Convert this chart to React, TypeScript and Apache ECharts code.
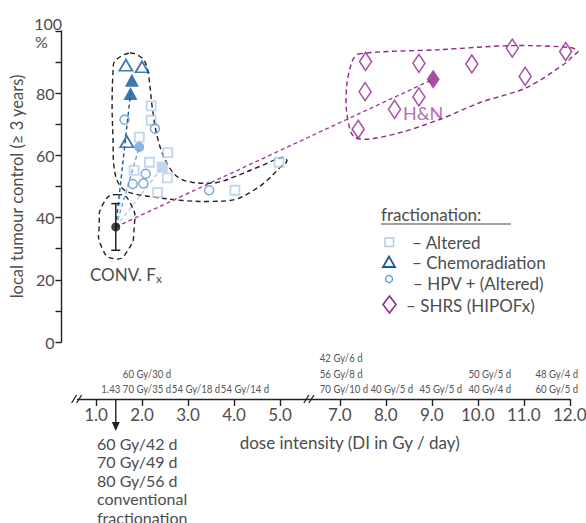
import React, { useEffect, useRef } from 'react';
import * as echarts from 'echarts';

// Broken dose-intensity axis: values above BREAK_AT are drawn BREAK_SHIFT units further left
const BREAK_AT = 6;
const BREAK_SHIFT = 0.7;
const bx = (di: number) => (di > BREAK_AT ? di - BREAK_SHIFT : di);

const xTickValues = [1, 2, 3, 4, 5, 7, 8, 9, 10, 11, 12];

// Conventional fractionation
const convDI = 1.43;
const convLC = 37;
const convLow = 29.5;
const convHigh = 44.5;

// Altered fractionation (open squares) and pooled value (filled square)
const alteredDI = [2.2, 2.2, 1.94, 2.56, 2.16, 1.83, 2.55, 2.34, 4.02, 4.98];
const alteredLC = [75.9, 71.3, 65.9, 60.9, 57.8, 55.2, 52.8, 48.0, 48.8, 57.8];
const alteredPooled = [2.44, 56.2];

// HPV+ (altered)
const hpvDI = [1.62, 2.28, 2.08, 1.8, 2.03, 3.46];
const hpvLC = [71.5, 68.6, 54.1, 50.8, 51.0, 48.8];
const hpvPooled = [1.94, 62.7];

// Chemoradiation
const chemoDI = [1.65, 2.0, 1.67];
const chemoLC = [89.0, 88.5, 64.4];
const chemoFilledDI = [1.78, 1.75];
const chemoFilledLC = [84.2, 79.9];

// SHRS (HIPOFx)
const shrsDI = [7.56, 8.72, 9.87, 10.75, 11.91, 7.55, 11.03, 8.72, 8.19, 7.4];
const shrsLC = [90.2, 89.6, 89.4, 94.5, 93.4, 80.5, 85.4, 78.8, 74.8, 68.4];
const shrsPooled = [9.03, 84.5];

// Hand-drawn enclosures (DI, local control)
const clusterOutline = [
  [1.74, 92.9], [2.02, 91.0], [2.13, 86.8], [2.22, 75.8], [2.33, 66.1], [2.5, 58.7],
  [2.76, 53.2], [3.11, 51.3], [3.63, 51.3], [4.02, 53.2], [4.57, 56.5], [5.07, 59.4],
  [5.15, 58.1], [5.0, 56.1], [4.67, 51.3], [4.35, 48.1], [4.02, 45.8], [3.48, 45.2],
  [2.89, 45.5], [2.17, 46.8], [1.67, 48.4], [1.48, 51.3], [1.39, 56.5], [1.37, 65.2],
  [1.35, 75.8], [1.37, 86.8], [1.41, 90.3],
];
const convOutline = [
  [1.46, 47.4], [1.74, 44.8], [1.83, 36.8], [1.67, 29.0], [1.39, 26.8], [1.13, 30.3],
  [1.07, 37.4], [1.17, 44.8],
];
const hnOutline = [
  [7.4, 92.6], [9.18, 94.0], [10.77, 95.3], [12.0, 94.7], [12.18, 93.5], [12.04, 91.6],
  [11.93, 89.9], [11.06, 81.8], [10.05, 77.0], [9.18, 71.6], [8.31, 67.3], [7.58, 65.2],
  [7.29, 66.2], [7.15, 73.8], [7.15, 82.4], [7.26, 89.9],
];

// Schedules written above the dose-intensity axis
const doseAnnotationDI = [1.43, 2, 3, 4, 7, 8, 9, 10, 12];
const doseAnnotationText = [
  '1.43',
  '60 Gy/30 d\n70 Gy/35 d',
  '54 Gy/18 d',
  '54 Gy/14 d',
  '42 Gy/6 d\n56 Gy/8 d\n70 Gy/10 d',
  '40 Gy/5 d',
  '45 Gy/5 d',
  '50 Gy/5 d\n40 Gy/4 d',
  '48 Gy/4 d\n60 Gy/5 d',
];
const convSchedules = '60 Gy/42 d\n70 Gy/49 d\n80 Gy/56 d\nconventional\nfractionation';

const FONT = 'Lato, "Open Sans", sans-serif';
const TXT = '#4d4d4d';
const C_ALT = '#b3cce9';
const C_HPV = '#5d94d4';
const C_CHEMO = '#17599b';
const C_SHRS = '#92278f';

export default function App() {
  const ref = useRef<HTMLDivElement>(null);

  useEffect(() => {
    const el = ref.current!;
    const chart = echarts.init(el, null, { renderer: 'svg' });

    const pts = (xs: number[], ys: number[]) => xs.map((x, i) => [bx(x), ys[i]]);
    const hollow = (color: string, w: number) => ({
      color: 'rgba(255,255,255,0)',
      borderColor: color,
      borderWidth: w,
    });

    const outline = (shape: number[][], color: string, smooth: number) => ({
      type: 'custom',
      xAxisIndex: 0,
      yAxisIndex: 0,
      silent: true,
      z: 1,
      data: [[bx(shape[0][0]), shape[0][1]]],
      renderItem: (_p: any, api: any) => ({
        type: 'polygon',
        shape: { points: shape.map((p) => api.coord([bx(p[0]), p[1]])), smooth },
        style: { fill: 'none', stroke: color, lineWidth: 1.4, lineDash: [5, 3.5] },
      }),
    });

    const link = (to: number[], color: string) => ({
      type: 'line',
      xAxisIndex: 0,
      yAxisIndex: 0,
      silent: true,
      z: 2,
      symbol: 'none',
      data: [
        [bx(convDI), convLC],
        [bx(to[0]), to[1]],
      ],
      lineStyle: { color, width: 1.4, type: [4, 3] },
    });

    const scatter = (data: number[][], symbol: string, size: any, itemStyle: any, z = 4) => ({
      type: 'scatter',
      xAxisIndex: 0,
      yAxisIndex: 0,
      silent: true,
      z,
      symbol,
      symbolSize: size,
      data,
      itemStyle,
    });

    const option: any = {
      animation: false,
      grid: [
        { left: 61.5, top: 31, width: 529, height: 311, outerBoundsMode: 'none' },
        { left: 77.6, top: 389, width: 492.2, height: 10, outerBoundsMode: 'none' },
      ],
      xAxis: [
        { gridIndex: 0, type: 'value', min: 0.25, max: 11.75, show: false },
        {
          gridIndex: 1,
          type: 'value',
          min: 0.6,
          max: 11.3,
          splitLine: { show: false },
          axisLine: { show: true, lineStyle: { color: '#222', width: 1.4 } },
          axisTick: {
            show: true,
            length: 7,
            customValues: xTickValues.map(bx),
            lineStyle: { color: '#222', width: 1.4 },
          },
          axisLabel: {
            customValues: xTickValues.map(bx),
            formatter: (v: number) => {
              const d = xTickValues.find((t) => Math.abs(bx(t) - v) < 1e-6);
              return d === undefined ? '' : d.toFixed(1);
            },
            fontSize: 17,
            fontFamily: FONT,
            color: TXT,
            margin: 7,
          },
          name: 'dose intensity (DI in Gy / day)',
          nameLocation: 'middle',
          nameGap: 35,
          nameTextStyle: { fontSize: 17, fontFamily: FONT, color: TXT, padding: [0, 0, 0, 52] },
        },
      ],
      yAxis: [
        {
          gridIndex: 0,
          type: 'value',
          min: 0,
          max: 100,
          interval: 10,
          splitLine: { show: false },
          axisLine: { show: true, lineStyle: { color: '#222', width: 1.4 } },
          axisTick: { show: true, length: 6, lineStyle: { color: '#222', width: 1.4 } },
          axisLabel: {
            formatter: (v: number) => (v % 20 === 0 && v < 100 ? String(v) : ''),
            fontSize: 16,
            fontFamily: FONT,
            color: TXT,
            margin: 7,
          },
          name: 'local tumour control (≥ 3 years)',
          nameLocation: 'middle',
          nameGap: 36,
          nameTextStyle: { fontSize: 16.5, fontFamily: FONT, color: TXT },
        },
        { gridIndex: 1, type: 'value', min: 0, max: 1, show: false },
      ],
      series: [
        outline(clusterOutline, '#222', 0.35),
        outline(convOutline, '#222', 0.6),
        outline(hnOutline, C_SHRS, 0.3),
        link([chemoFilledDI[1], chemoFilledLC[1]], C_CHEMO),
        link(hpvPooled, '#6e9fdc'),
        link(alteredPooled, C_ALT),
        link(shrsPooled, '#a33fa0'),
        {
          type: 'custom',
          xAxisIndex: 0,
          yAxisIndex: 0,
          silent: true,
          z: 3,
          data: [[bx(convDI), convLow, convHigh]],
          encode: { x: 0, y: [1, 2] },
          renderItem: (_p: any, api: any) => {
            const x = api.value(0);
            const lo = api.coord([x, api.value(1)]);
            const hi = api.coord([x, api.value(2)]);
            const w = 4.5;
            const st = { stroke: '#222', lineWidth: 1.5 };
            return {
              type: 'group',
              children: [
                { type: 'line', shape: { x1: lo[0], y1: lo[1], x2: hi[0], y2: hi[1] }, style: st },
                { type: 'line', shape: { x1: lo[0] - w, y1: lo[1], x2: lo[0] + w, y2: lo[1] }, style: st },
                { type: 'line', shape: { x1: hi[0] - w, y1: hi[1], x2: hi[0] + w, y2: hi[1] }, style: st },
              ],
            };
          },
        },
        scatter(pts(alteredDI, alteredLC), 'rect', 9, hollow(C_ALT, 1.8)),
        scatter([[bx(alteredPooled[0]), alteredPooled[1]]], 'rect', 11, { color: C_ALT }),
        scatter(pts(hpvDI, hpvLC), 'circle', 9, hollow(C_HPV, 1.5)),
        scatter([[bx(hpvPooled[0]), hpvPooled[1]]], 'circle', 10, { color: '#6e9fdc' }),
        scatter(pts(chemoDI, chemoLC), 'triangle', [13, 11], hollow(C_CHEMO, 1.8)),
        scatter(pts(chemoFilledDI, chemoFilledLC), 'triangle', [14, 13], { color: '#0f5598' }),
        scatter(pts(shrsDI, shrsLC), 'diamond', [12, 18], hollow(C_SHRS, 1.6)),
        scatter([[bx(shrsPooled[0]), shrsPooled[1]]], 'diamond', [13, 19], { color: '#8e258c' }),
        scatter([[bx(convDI), convLC]], 'circle', 9, { color: '#111' }, 5),
      ],
    };

    chart.setOption(option);

    const axX = (di: number) => chart.convertToPixel({ xAxisIndex: 1 }, bx(di)) as number;
    const axY = chart.convertToPixel({ yAxisIndex: 1 }, 0) as number;
    const txt = (x: number, y: number, text: string, extra: any = {}, size = 17, fill = TXT) => ({
      type: 'text',
      x,
      y,
      silent: true,
      style: { text, fontSize: size, fontFamily: FONT, fill, align: 'left', verticalAlign: 'middle', ...extra },
    });

    const annotDx = [-5, 5, 8, 11, -20, 6, 9, 12, -13];
    const annotAlign = ['center', 'center', 'center', 'center', 'left', 'center', 'center', 'center', 'center'];
    const annotations = doseAnnotationDI.map((d, i) => ({
      type: 'text',
      x: axX(d) + annotDx[i],
      y: axY - 3,
      scaleX: 0.8,
      silent: true,
      style: {
        text: doseAnnotationText[i],
        fontSize: 12,
        fontFamily: FONT,
        fill: '#555',
        align: annotAlign[i],
        verticalAlign: 'bottom',
        lineHeight: 15.5,
      },
    }));

    const slash = (cx: number) => [
      { type: 'line', shape: { x1: cx - 6, y1: axY + 4, x2: cx - 1, y2: axY - 4 }, style: { stroke: '#222', lineWidth: 1.3 } },
      { type: 'line', shape: { x1: cx - 1, y1: axY + 4, x2: cx + 4, y2: axY - 4 }, style: { stroke: '#222', lineWidth: 1.3 } },
    ];
    const breakMid = (axX(5) + axX(7)) / 2;
    const axStart = chart.convertToPixel({ xAxisIndex: 1 }, 0.6) as number;
    const ax = axX(convDI);

    const graphic: any[] = [
      txt(62, 23, '100', { align: 'right' }, 16),
      txt(35, 41, '%', {}, 16),
      {
        type: 'text',
        x: 90,
        y: 274,
        silent: true,
        style: {
          text: '{a|CONV. F}{b|x}',
          fontFamily: FONT,
          fill: TXT,
          verticalAlign: 'middle',
          rich: {
            a: { fontSize: 17, fontFamily: FONT, fill: TXT, lineHeight: 20 },
            b: { fontSize: 12, fontFamily: FONT, fill: TXT, verticalAlign: 'bottom', lineHeight: 20, padding: [6, 0, 0, 0] },
          },
        },
      },
      txt(403, 113, 'H&N', {}, 18, '#b46fb2'),
      txt(381, 214, 'fractionation:', {}, 17),
      { type: 'line', shape: { x1: 381, y1: 224, x2: 511, y2: 224 }, style: { stroke: '#444', lineWidth: 1.2 } },
      { type: 'rect', shape: { x: 385, y: 238, width: 8.5, height: 8.5 }, style: { fill: 'none', stroke: C_ALT, lineWidth: 1.5 } },
      txt(412, 242, '– Altered'),
      {
        type: 'polygon',
        shape: { points: [[389, 256.5], [383, 267], [395, 267]] },
        style: { fill: 'none', stroke: C_CHEMO, lineWidth: 1.8 },
      },
      txt(412, 262, '– Chemoradiation'),
      { type: 'circle', shape: { cx: 389, cy: 279, r: 3.5 }, style: { fill: 'none', stroke: C_HPV, lineWidth: 1.3 } },
      txt(413, 283, '– HPV + (Altered)'),
      {
        type: 'polygon',
        shape: { points: [[389.5, 296], [396, 304.5], [389.5, 313], [383, 304.5]] },
        style: { fill: 'none', stroke: C_SHRS, lineWidth: 1.6 },
      },
      txt(406, 305, '– SHRS (HIPOFx)'),
      ...slash(axStart),
      ...slash(breakMid),
      { type: 'line', shape: { x1: ax, y1: axY, x2: ax, y2: axY + 24 }, style: { stroke: '#222', lineWidth: 1.4 } },
      { type: 'polygon', shape: { points: [[ax - 4, axY + 23], [ax + 4, axY + 23], [ax, axY + 32]] }, style: { fill: '#222' } },
      txt(97, 434, convSchedules, { verticalAlign: 'top', lineHeight: 18.5 }, 16),
      ...annotations,
    ];

    chart.setOption({ graphic });

    return () => chart.dispose();
  }, []);

  return (
    <div
      ref={ref}
      style={{ position: 'absolute', left: 0, top: 0, width: 586, height: 523, background: '#fff' }}
    />
  );
}
